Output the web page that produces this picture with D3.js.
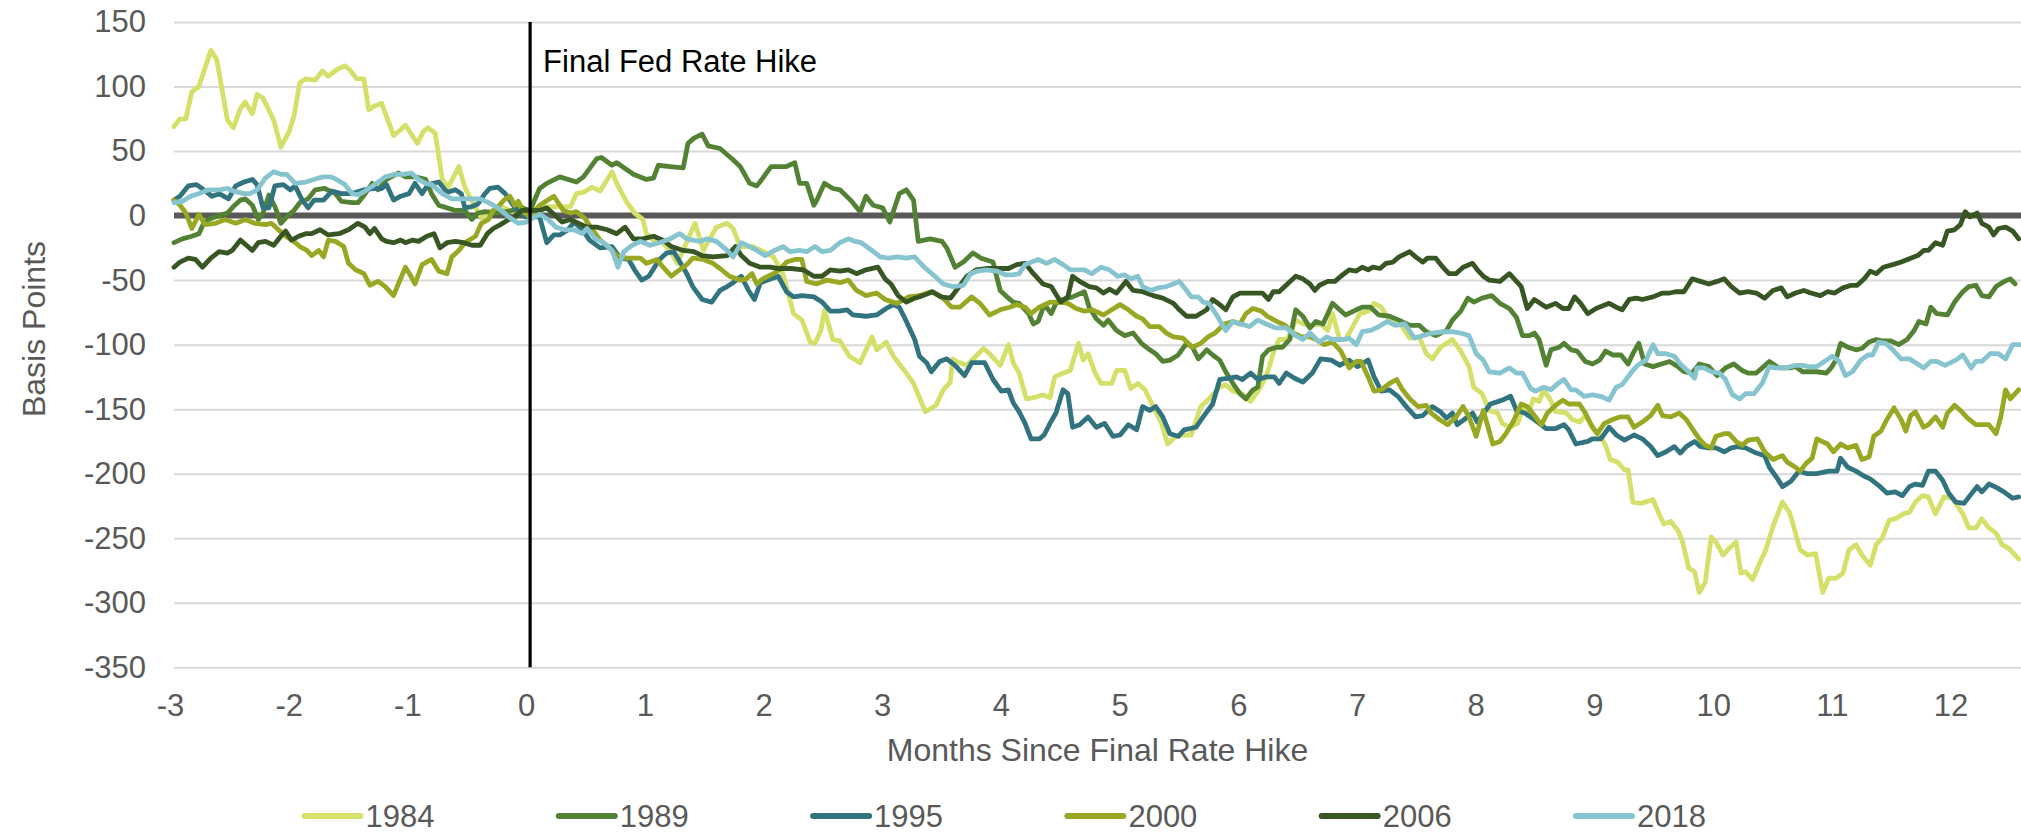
<!DOCTYPE html>
<html>
<head>
  <meta charset="utf-8">
  <title>Basis Points Since Final Fed Rate Hike</title>
  <script src="https://cdn.jsdelivr.net/npm/d3@7"></script>
  <style>
    body { margin: 0px; background: #fff; }
    svg text { font-family: "Liberation Sans", Arial, sans-serif; }
    .domain { display: none; }
    .y-axis .tick line { stroke: #d9d9d9; stroke-width: 2; }
    .tick text { fill: #595959; font-size: 31px; }
    .axis-label { fill: #595959; font-size: 32px; }
    .legend text { fill: #595959; font-size: 31px; }
  </style>
</head>
<body>
<svg width="2021" height="832"></svg>
<script>
  const years = ['1984', '1989', '1995', '2000', '2006', '2018'];
  const colors = ['#d5e06a', '#548235', '#31737f', '#99a823', '#375623', '#86c5cf'];
  const monthTicks = [-3, -2, -1, 0, 1, 2, 3, 4, 5, 6, 7, 8, 9, 10, 11, 12];
  const bpTicks = [-350, -300, -250, -200, -150, -100, -50, 0, 50, 100, 150];

  // [months since final hike, basis points]
  const s1984 = [[-3.00,69],[-2.95,75],[-2.90,75],[-2.85,96],[-2.79,100],[-2.69,128],[-2.64,121],[-2.55,74],[-2.50,68],[-2.44,83],[-2.40,88],[-2.34,79],[-2.30,94],[-2.25,91],[-2.16,74],[-2.10,53],[-2.03,65],[-1.99,77],[-1.94,103],[-1.89,106],[-1.81,105],[-1.75,112],[-1.70,108],[-1.63,113],[-1.56,116],[-1.52,113],[-1.46,106],[-1.40,106],[-1.36,82],[-1.31,85],[-1.25,87],[-1.15,62],[-1.11,65],[-1.05,70],[-0.95,56],[-0.90,65],[-0.86,68],[-0.80,64],[-0.74,28],[-0.69,22],[-0.60,38],[-0.55,22],[-0.49,11],[-0.41,-2],[-0.31,3],[-0.24,7],[-0.15,3],[-0.10,11],[-0.04,3],[0,3],
    [0.08,7],[0.34,7],[0.39,17],[0.45,18],[0.52,22],[0.59,19],[0.69,34],[0.73,25],[0.81,11],[0.88,2],[0.95,-3],[0.98,-14],[1.04,-19],[1.12,-21],[1.19,-29],[1.24,-37],[1.39,-6],[1.46,-27],[1.57,-9],[1.66,-6],[1.71,-10],[1.77,-24],[1.88,-24],[1.99,-29],[2.05,-32],[2.13,-45],[2.22,-76],[2.29,-81],[2.36,-98],[2.40,-99],[2.45,-89],[2.48,-73],[2.55,-96],[2.61,-97],[2.69,-109],[2.78,-114],[2.88,-94],[2.92,-104],[3.00,-98],[3.06,-109],[3.17,-122],[3.23,-130],[3.33,-152],[3.42,-147],[3.48,-135],[3.54,-129],[3.56,-111],[3.59,-113],[3.68,-116],[3.82,-103],[3.87,-107],[3.96,-116],[4.03,-100],[4.07,-114],[4.12,-122],
    [4.18,-142],[4.24,-141],[4.32,-139],[4.38,-141],[4.42,-125],[4.49,-122],[4.55,-120],[4.62,-99],[4.66,-112],[4.70,-107],[4.76,-122],[4.81,-130],[4.90,-130],[4.94,-120],[5.01,-120],[5.06,-134],[5.12,-130],[5.18,-135],[5.25,-148],[5.32,-161],[5.37,-177],[5.44,-171],[5.51,-170],[5.57,-170],[5.65,-148],[5.72,-142],[5.81,-133],[5.86,-131],[5.92,-136],[6.00,-138],[6.07,-144],[6.14,-135],[6.20,-125],[6.27,-104],[6.31,-96],[6.38,-96],[6.45,-81],[6.51,-84],[6.57,-85],[6.66,-84],[6.72,-89],[6.76,-76],[6.82,-96],[6.87,-96],[6.93,-86],[6.99,-76],[7.06,-74],[7.11,-68],[7.17,-71],[7.25,-82],[7.34,-85],[7.41,-95],[7.49,-94],[7.55,-107],[7.60,-111],[7.67,-102],[7.77,-96],[7.84,-105],[7.91,-117],[7.95,-133],[8.02,-138],[8.08,-151],[8.15,-153],[8.19,-161],[8.25,-164],[8.32,-161],
    [8.36,-151],[8.42,-151],[8.45,-142],[8.50,-144],[8.54,-135],[8.59,-142],[8.64,-152],[8.68,-152],[8.73,-153],[8.78,-158],[8.84,-160],[8.89,-155],[8.95,-164],[9.02,-171],[9.06,-178],[9.10,-189],[9.16,-191],[9.22,-197],[9.25,-197],[9.29,-222],[9.36,-223],[9.46,-220],[9.51,-231],[9.55,-239],[9.61,-237],[9.67,-244],[9.71,-253],[9.76,-273],[9.81,-276],[9.85,-292],[9.90,-284],[9.95,-249],[9.99,-253],[10.05,-263],[10.10,-258],[10.16,-253],[10.20,-277],[10.24,-276],[10.30,-282],[10.35,-271],[10.41,-259],[10.47,-241],[10.55,-222],[10.61,-230],[10.66,-246],[10.70,-259],[10.76,-263],[10.83,-262],[10.89,-292],[10.94,-281],[11.00,-281],[11.06,-277],[11.11,-259],[11.17,-255],[11.22,-263],[11.29,-271],[11.34,-255],[11.39,-250],[11.45,-236],[11.50,-235],[11.57,-231],[11.62,-230],[11.67,-222],[11.73,-217],[11.78,-218],[11.84,-231],[11.91,-218],[11.98,-219],[12.07,-231],[12.12,-242],[12.18,-242],[12.23,-235],[12.29,-242],[12.35,-246],[12.40,-255],[12.46,-258],[12.54,-266]];

  const s1989 = [[-3.00,-21],[-2.93,-18],[-2.85,-16],[-2.79,-14],[-2.75,-6],[-2.71,-3],[-2.62,0],[-2.55,2],[-2.50,7],[-2.44,12],[-2.40,13],[-2.34,8],[-2.29,-3],[-2.25,2],[-2.20,16],[-2.15,7],[-2.10,-6],[-2.05,-1],[-1.99,4],[-1.94,10],[-1.87,13],[-1.81,20],[-1.73,21],[-1.64,17],[-1.59,11],[-1.50,10],[-1.45,10],[-1.39,17],[-1.33,25],[-1.28,20],[-1.21,28],[-1.11,33],[-1.05,30],[-0.97,30],[-0.88,28],[-0.83,17],[-0.77,8],[-0.70,6],[-0.63,4],[-0.55,4],[-0.49,-3],[-0.44,2],[-0.38,3],[-0.27,2],[-0.15,4],[-0.07,6],[0,4],
    [0.08,21],[0.14,25],[0.25,30],[0.39,26],[0.45,30],[0.56,44],[0.60,45],[0.69,39],[0.73,41],[0.87,32],[0.98,28],[1.04,29],[1.08,39],[1.18,38],[1.29,37],[1.33,56],[1.38,60],[1.45,63],[1.50,54],[1.60,52],[1.70,44],[1.77,38],[1.85,25],[1.91,23],[1.96,29],[2.03,38],[2.16,38],[2.23,41],[2.27,25],[2.33,25],[2.39,8],[2.41,11],[2.48,25],[2.55,21],[2.61,20],[2.71,11],[2.78,3],[2.83,15],[2.89,8],[2.97,6],[3.03,-5],[3.11,17],[3.17,20],[3.23,12],[3.27,-20],[3.37,-18],[3.47,-20],[3.51,-25],[3.58,-40],[3.65,-36],[3.73,-29],[3.80,-33],[3.90,-36],[3.96,-58],[4.03,-64],[4.07,-67],[4.12,-68],
    [4.20,-76],[4.24,-84],[4.28,-82],[4.32,-72],[4.35,-71],[4.39,-76],[4.43,-68],[4.49,-65],[4.57,-63],[4.67,-59],[4.71,-71],[4.77,-80],[4.83,-85],[4.87,-81],[4.94,-89],[5.01,-93],[5.08,-91],[5.15,-99],[5.22,-104],[5.27,-107],[5.33,-113],[5.39,-112],[5.46,-108],[5.53,-99],[5.58,-102],[5.63,-111],[5.70,-104],[5.75,-108],[5.81,-112],[5.86,-121],[5.92,-130],[5.98,-138],[6.03,-142],[6.09,-135],[6.13,-133],[6.17,-109],[6.22,-104],[6.29,-102],[6.34,-102],[6.40,-96],[6.45,-73],[6.51,-78],[6.57,-87],[6.62,-82],[6.68,-84],[6.76,-68],[6.82,-73],[6.87,-77],[6.96,-73],[7.01,-71],[7.08,-71],[7.15,-77],[7.24,-78],[7.32,-81],[7.41,-85],[7.49,-85],[7.55,-90],[7.63,-93],[7.72,-89],[7.77,-81],[7.84,-74],[7.90,-64],[7.95,-67],[8.02,-64],[8.10,-62],[8.17,-68],[8.25,-72],[8.31,-79],
    [8.36,-93],[8.42,-93],[8.46,-91],[8.50,-96],[8.56,-116],[8.60,-104],[8.67,-102],[8.71,-99],[8.77,-104],[8.82,-105],[8.89,-113],[8.95,-115],[9.01,-112],[9.06,-105],[9.12,-108],[9.19,-108],[9.25,-115],[9.29,-107],[9.34,-99],[9.39,-115],[9.46,-117],[9.53,-115],[9.60,-113],[9.67,-117],[9.72,-121],[9.79,-122],[9.85,-115],[9.93,-117],[10.00,-124],[10.07,-118],[10.14,-115],[10.21,-120],[10.26,-122],[10.33,-122],[10.38,-118],[10.44,-113],[10.52,-118],[10.61,-118],[10.66,-117],[10.72,-121],[10.79,-121],[10.84,-121],[10.92,-122],[10.96,-118],[11.00,-112],[11.04,-99],[11.10,-102],[11.17,-104],[11.22,-103],[11.28,-98],[11.34,-96],[11.39,-97],[11.46,-97],[11.53,-100],[11.60,-96],[11.66,-89],[11.70,-82],[11.76,-84],[11.80,-71],[11.85,-76],[11.94,-77],[12.00,-67],[12.07,-59],[12.12,-55],[12.18,-54],[12.23,-62],[12.29,-63],[12.35,-55],[12.42,-51],[12.47,-49],[12.51,-53]];

  const s1995 = [[-3.00,12],[-2.95,15],[-2.88,23],[-2.81,24],[-2.75,20],[-2.68,15],[-2.62,17],[-2.54,13],[-2.48,23],[-2.41,26],[-2.34,28],[-2.30,24],[-2.25,6],[-2.20,6],[-2.15,23],[-2.08,24],[-2.02,20],[-1.98,23],[-1.92,12],[-1.87,6],[-1.82,12],[-1.74,12],[-1.67,19],[-1.59,17],[-1.50,17],[-1.40,20],[-1.31,21],[-1.25,21],[-1.21,24],[-1.15,12],[-1.09,15],[-1.02,17],[-0.97,25],[-0.91,17],[-0.86,24],[-0.77,26],[-0.70,18],[-0.63,20],[-0.58,17],[-0.55,6],[-0.49,7],[-0.44,9],[-0.38,17],[-0.34,21],[-0.27,22],[-0.21,17],[-0.15,9],[-0.10,3],[-0.04,-1],[0,-1],
    [0.08,-1],[0.14,-21],[0.20,-15],[0.25,-15],[0.32,-11],[0.37,-5],[0.45,-12],[0.50,-19],[0.59,-25],[0.69,-24],[0.76,-33],[0.83,-34],[0.88,-42],[0.94,-50],[1.00,-47],[1.09,-34],[1.15,-29],[1.21,-28],[1.25,-34],[1.32,-45],[1.37,-55],[1.45,-65],[1.53,-67],[1.60,-58],[1.66,-55],[1.71,-52],[1.78,-47],[1.84,-58],[1.89,-65],[1.94,-52],[2.03,-49],[2.09,-47],[2.16,-59],[2.22,-63],[2.29,-62],[2.39,-63],[2.46,-67],[2.53,-74],[2.60,-74],[2.67,-73],[2.72,-77],[2.83,-78],[2.92,-77],[3.00,-72],[3.06,-69],[3.11,-71],[3.17,-82],[3.24,-96],[3.28,-109],[3.34,-114],[3.38,-121],[3.45,-113],[3.51,-111],[3.58,-116],[3.66,-124],[3.72,-114],[3.83,-114],[3.90,-127],[3.97,-136],[4.03,-135],[4.07,-145],[4.12,-152],
    [4.17,-161],[4.22,-173],[4.29,-173],[4.33,-170],[4.38,-161],[4.43,-153],[4.49,-135],[4.53,-138],[4.57,-164],[4.63,-162],[4.70,-156],[4.77,-164],[4.84,-161],[4.91,-171],[4.97,-170],[5.04,-162],[5.11,-166],[5.16,-148],[5.22,-151],[5.27,-148],[5.33,-156],[5.39,-169],[5.46,-171],[5.51,-166],[5.61,-164],[5.67,-156],[5.75,-146],[5.81,-127],[5.89,-126],[5.95,-125],[6.00,-127],[6.07,-122],[6.13,-127],[6.20,-125],[6.27,-125],[6.31,-130],[6.37,-122],[6.44,-126],[6.51,-129],[6.59,-122],[6.66,-111],[6.75,-112],[6.82,-116],[6.90,-112],[6.97,-117],[7.06,-112],[7.11,-125],[7.17,-136],[7.24,-135],[7.31,-140],[7.39,-149],[7.46,-156],[7.52,-155],[7.60,-148],[7.67,-152],[7.72,-157],[7.77,-153],[7.81,-162],[7.87,-158],[7.94,-153],[7.98,-160],[8.04,-152],[8.09,-146],[8.19,-143],[8.26,-140],
    [8.31,-151],[8.38,-153],[8.46,-158],[8.56,-165],[8.64,-165],[8.71,-162],[8.75,-166],[8.81,-177],[8.91,-175],[8.95,-173],[9.02,-173],[9.09,-164],[9.15,-170],[9.22,-174],[9.30,-170],[9.37,-173],[9.44,-179],[9.50,-186],[9.57,-183],[9.64,-179],[9.69,-184],[9.74,-179],[9.81,-175],[9.86,-179],[9.93,-180],[9.99,-180],[10.06,-183],[10.12,-180],[10.17,-179],[10.24,-180],[10.33,-184],[10.40,-186],[10.44,-195],[10.51,-204],[10.55,-210],[10.62,-206],[10.69,-198],[10.76,-200],[10.84,-200],[10.94,-198],[11.01,-198],[11.04,-188],[11.10,-195],[11.17,-198],[11.24,-202],[11.29,-204],[11.36,-209],[11.43,-215],[11.50,-214],[11.56,-217],[11.62,-210],[11.67,-208],[11.73,-209],[11.78,-198],[11.84,-198],[11.90,-205],[11.95,-215],[12.01,-222],[12.08,-223],[12.13,-217],[12.19,-210],[12.23,-214],[12.29,-208],[12.36,-211],[12.43,-215],[12.49,-219],[12.54,-218]];

  const s2000 = [[-3.00,12],[-2.95,8],[-2.90,2],[-2.85,-10],[-2.79,1],[-2.74,-7],[-2.65,-6],[-2.57,-3],[-2.48,-6],[-2.40,-3],[-2.32,-6],[-2.23,-7],[-2.18,-6],[-2.12,-11],[-2.06,-16],[-1.99,-20],[-1.94,-24],[-1.88,-27],[-1.84,-31],[-1.78,-27],[-1.74,-32],[-1.70,-19],[-1.64,-20],[-1.57,-24],[-1.53,-37],[-1.47,-42],[-1.40,-45],[-1.35,-54],[-1.28,-51],[-1.22,-55],[-1.15,-62],[-1.11,-53],[-1.05,-40],[-1.01,-46],[-0.97,-53],[-0.91,-38],[-0.83,-34],[-0.77,-43],[-0.70,-45],[-0.66,-32],[-0.60,-27],[-0.55,-21],[-0.46,-16],[-0.41,-6],[-0.35,-3],[-0.31,4],[-0.27,7],[-0.22,12],[-0.17,15],[-0.13,8],[-0.10,11],[-0.06,3],[0,-1],
    [0.08,8],[0.20,15],[0.28,4],[0.34,2],[0.39,3],[0.46,-2],[0.52,-10],[0.59,-19],[0.66,-24],[0.73,-31],[0.81,-33],[0.93,-33],[0.98,-37],[1.07,-34],[1.12,-40],[1.19,-47],[1.23,-44],[1.32,-38],[1.37,-33],[1.46,-34],[1.54,-37],[1.60,-41],[1.68,-47],[1.77,-50],[1.82,-49],[1.87,-45],[1.91,-53],[1.96,-49],[2.05,-45],[2.10,-42],[2.16,-36],[2.23,-34],[2.29,-34],[2.33,-51],[2.41,-53],[2.50,-50],[2.61,-52],[2.68,-50],[2.75,-58],[2.83,-62],[2.92,-60],[2.99,-65],[3.09,-68],[3.19,-63],[3.28,-62],[3.38,-59],[3.47,-63],[3.55,-71],[3.62,-71],[3.72,-63],[3.79,-68],[3.87,-77],[3.96,-73],[4.04,-71],
    [4.10,-69],[4.17,-71],[4.22,-76],[4.29,-71],[4.38,-67],[4.46,-67],[4.53,-68],[4.60,-72],[4.67,-74],[4.74,-73],[4.83,-77],[4.90,-73],[4.97,-69],[5.04,-73],[5.11,-78],[5.16,-80],[5.22,-86],[5.30,-86],[5.36,-91],[5.42,-94],[5.50,-95],[5.58,-102],[5.65,-99],[5.71,-94],[5.77,-91],[5.85,-84],[5.92,-82],[5.98,-84],[6.03,-76],[6.09,-72],[6.16,-74],[6.21,-78],[6.29,-82],[6.36,-85],[6.43,-91],[6.50,-94],[6.57,-94],[6.62,-96],[6.69,-100],[6.76,-98],[6.83,-105],[6.90,-118],[6.96,-113],[7.00,-113],[7.06,-125],[7.11,-136],[7.17,-135],[7.24,-130],[7.30,-127],[7.35,-135],[7.41,-142],[7.48,-148],[7.55,-147],[7.59,-153],[7.66,-158],[7.73,-162],[7.80,-156],[7.86,-148],[7.91,-156],[7.97,-171],[8.03,-151],[8.11,-177],[8.17,-175],[8.22,-169],[8.28,-160],
    [8.35,-146],[8.40,-148],[8.47,-156],[8.52,-162],[8.57,-153],[8.64,-147],[8.70,-143],[8.75,-146],[8.84,-146],[8.89,-153],[8.95,-164],[8.99,-169],[9.05,-161],[9.12,-158],[9.18,-156],[9.25,-156],[9.30,-164],[9.37,-160],[9.44,-155],[9.50,-147],[9.54,-155],[9.61,-156],[9.68,-153],[9.74,-158],[9.79,-165],[9.85,-173],[9.90,-178],[9.95,-180],[9.99,-171],[10.06,-169],[10.10,-169],[10.16,-175],[10.21,-178],[10.26,-174],[10.34,-173],[10.40,-183],[10.47,-189],[10.55,-186],[10.59,-191],[10.66,-195],[10.70,-198],[10.75,-192],[10.80,-188],[10.84,-173],[10.93,-177],[10.98,-183],[11.04,-177],[11.10,-180],[11.17,-178],[11.22,-189],[11.28,-187],[11.32,-171],[11.38,-167],[11.43,-158],[11.49,-149],[11.55,-158],[11.59,-167],[11.63,-155],[11.67,-152],[11.74,-164],[11.78,-162],[11.84,-156],[11.90,-164],[11.94,-153],[12.00,-147],[12.05,-151],[12.11,-157],[12.18,-162],[12.29,-162],[12.35,-169],[12.39,-156],[12.43,-135],[12.47,-142],[12.54,-135]];

  const s2006 = [[-3.00,-40],[-2.95,-36],[-2.88,-33],[-2.82,-34],[-2.76,-40],[-2.69,-33],[-2.62,-28],[-2.55,-29],[-2.51,-27],[-2.44,-19],[-2.39,-23],[-2.34,-27],[-2.29,-21],[-2.23,-20],[-2.16,-23],[-2.10,-16],[-2.06,-12],[-2.01,-19],[-1.95,-16],[-1.89,-14],[-1.84,-14],[-1.77,-11],[-1.70,-15],[-1.61,-14],[-1.53,-11],[-1.45,-6],[-1.39,-9],[-1.35,-14],[-1.31,-10],[-1.25,-18],[-1.21,-20],[-1.15,-21],[-1.09,-19],[-1.05,-21],[-0.99,-19],[-0.94,-20],[-0.87,-16],[-0.81,-14],[-0.76,-25],[-0.70,-21],[-0.63,-20],[-0.56,-21],[-0.49,-23],[-0.42,-23],[-0.36,-14],[-0.31,-10],[-0.25,-7],[-0.18,-3],[-0.13,-1],[-0.07,4],[0,4],
    [0.08,4],[0.14,6],[0.20,1],[0.27,-5],[0.34,-3],[0.41,-6],[0.48,-9],[0.56,-9],[0.65,-11],[0.73,-14],[0.80,-9],[0.87,-18],[0.95,-18],[1.04,-16],[1.12,-19],[1.19,-24],[1.29,-27],[1.38,-28],[1.45,-31],[1.54,-32],[1.66,-31],[1.73,-24],[1.78,-31],[1.85,-37],[1.94,-40],[2.02,-40],[2.10,-41],[2.20,-41],[2.30,-42],[2.39,-47],[2.46,-47],[2.53,-42],[2.61,-43],[2.68,-42],[2.75,-45],[2.83,-42],[2.93,-40],[2.99,-49],[3.04,-53],[3.10,-62],[3.17,-67],[3.24,-64],[3.31,-62],[3.39,-59],[3.46,-63],[3.54,-64],[3.59,-58],[3.68,-47],[3.76,-42],[3.84,-41],[3.93,-41],[4.03,-41],[4.10,-38],
    [4.17,-37],[4.24,-45],[4.32,-53],[4.39,-55],[4.47,-67],[4.53,-63],[4.57,-47],[4.63,-51],[4.71,-55],[4.77,-56],[4.83,-60],[4.88,-57],[4.94,-60],[5.02,-51],[5.08,-58],[5.16,-59],[5.25,-62],[5.33,-64],[5.42,-68],[5.47,-73],[5.53,-78],[5.61,-78],[5.70,-73],[5.75,-65],[5.81,-69],[5.86,-73],[5.92,-63],[5.98,-60],[6.06,-60],[6.17,-60],[6.22,-65],[6.26,-59],[6.31,-59],[6.38,-53],[6.45,-47],[6.51,-49],[6.57,-53],[6.61,-58],[6.65,-54],[6.72,-51],[6.78,-51],[6.83,-47],[6.90,-42],[6.96,-43],[7.01,-40],[7.06,-42],[7.10,-40],[7.16,-41],[7.21,-37],[7.27,-36],[7.32,-32],[7.41,-28],[7.46,-32],[7.52,-36],[7.56,-33],[7.63,-33],[7.69,-40],[7.74,-45],[7.80,-45],[7.86,-40],[7.94,-37],[7.98,-42],[8.03,-47],[8.08,-50],[8.17,-51],[8.25,-45],
    [8.35,-55],[8.40,-72],[8.46,-65],[8.56,-71],[8.64,-68],[8.70,-72],[8.75,-72],[8.80,-63],[8.85,-68],[8.91,-76],[8.98,-72],[9.09,-68],[9.15,-71],[9.20,-73],[9.26,-65],[9.32,-64],[9.37,-65],[9.46,-63],[9.54,-60],[9.60,-60],[9.65,-59],[9.72,-59],[9.79,-49],[9.86,-51],[9.93,-53],[10.00,-51],[10.06,-49],[10.12,-55],[10.19,-60],[10.26,-59],[10.33,-60],[10.40,-64],[10.47,-58],[10.54,-56],[10.59,-63],[10.66,-60],[10.73,-58],[10.79,-60],[10.87,-62],[10.93,-59],[10.99,-60],[11.06,-56],[11.13,-54],[11.18,-54],[11.24,-49],[11.29,-43],[11.34,-45],[11.40,-40],[11.48,-38],[11.55,-36],[11.63,-33],[11.69,-31],[11.74,-27],[11.78,-27],[11.84,-21],[11.90,-23],[11.94,-12],[12.00,-11],[12.05,-7],[12.09,3],[12.13,-1],[12.19,2],[12.23,-6],[12.29,-9],[12.33,-15],[12.37,-10],[12.43,-9],[12.49,-12],[12.54,-18]];

  const s2018 = [[-3.00,10],[-2.93,11],[-2.86,15],[-2.79,17],[-2.71,20],[-2.62,20],[-2.55,21],[-2.50,19],[-2.41,17],[-2.36,17],[-2.30,20],[-2.23,29],[-2.16,34],[-2.10,32],[-2.05,32],[-1.98,25],[-1.89,26],[-1.82,28],[-1.75,30],[-1.68,30],[-1.63,28],[-1.56,24],[-1.50,17],[-1.45,16],[-1.39,19],[-1.31,24],[-1.22,30],[-1.14,32],[-1.07,32],[-1.00,33],[-0.94,28],[-0.88,25],[-0.83,24],[-0.74,17],[-0.66,13],[-0.57,13],[-0.49,13],[-0.42,13],[-0.35,10],[-0.27,6],[-0.18,-1],[-0.10,-6],[-0.03,-5],[0,-3],
    [0.08,1],[0.15,-3],[0.22,-9],[0.29,-11],[0.37,-11],[0.44,-14],[0.48,-10],[0.55,-18],[0.62,-21],[0.69,-27],[0.74,-40],[0.79,-28],[0.86,-23],[0.93,-20],[1.01,-23],[1.09,-21],[1.18,-18],[1.26,-14],[1.32,-18],[1.37,-19],[1.43,-20],[1.49,-18],[1.57,-20],[1.66,-27],[1.71,-32],[1.78,-21],[1.85,-24],[1.91,-27],[1.98,-31],[2.06,-27],[2.13,-24],[2.19,-28],[2.27,-27],[2.33,-28],[2.40,-24],[2.46,-28],[2.53,-27],[2.61,-21],[2.68,-18],[2.74,-20],[2.79,-21],[2.88,-27],[2.95,-32],[3.02,-33],[3.09,-32],[3.17,-33],[3.24,-32],[3.28,-36],[3.32,-40],[3.41,-47],[3.48,-53],[3.56,-55],[3.65,-54],[3.71,-45],[3.77,-43],[3.84,-42],[3.93,-43],[4.01,-46],[4.07,-46],[4.12,-45],
    [4.17,-38],[4.28,-34],[4.35,-37],[4.42,-34],[4.49,-38],[4.55,-42],[4.67,-42],[4.73,-45],[4.81,-40],[4.88,-42],[4.95,-47],[5.01,-46],[5.06,-49],[5.12,-47],[5.16,-55],[5.23,-58],[5.29,-56],[5.36,-55],[5.42,-53],[5.47,-51],[5.53,-58],[5.57,-63],[5.63,-63],[5.67,-67],[5.72,-68],[5.79,-78],[5.86,-89],[5.92,-82],[5.99,-84],[6.06,-86],[6.13,-81],[6.20,-84],[6.28,-87],[6.37,-87],[6.45,-93],[6.51,-96],[6.57,-91],[6.65,-98],[6.71,-94],[6.76,-96],[6.85,-96],[6.90,-95],[6.96,-100],[7.01,-90],[7.08,-89],[7.15,-86],[7.22,-82],[7.29,-85],[7.37,-84],[7.45,-95],[7.52,-93],[7.60,-91],[7.69,-90],[7.77,-90],[7.84,-91],[7.91,-93],[7.97,-107],[8.03,-112],[8.08,-121],[8.17,-122],[8.25,-118],
    [8.31,-122],[8.36,-122],[8.43,-134],[8.47,-136],[8.54,-133],[8.60,-135],[8.66,-130],[8.71,-127],[8.77,-135],[8.81,-135],[8.88,-140],[8.95,-139],[9.02,-140],[9.09,-143],[9.15,-133],[9.20,-131],[9.29,-120],[9.33,-116],[9.40,-112],[9.46,-100],[9.50,-107],[9.57,-107],[9.64,-109],[9.69,-115],[9.76,-121],[9.81,-126],[9.83,-118],[9.89,-118],[9.95,-121],[10.02,-122],[10.07,-127],[10.13,-139],[10.19,-142],[10.24,-138],[10.31,-138],[10.38,-130],[10.44,-117],[10.49,-118],[10.58,-118],[10.66,-116],[10.72,-116],[10.77,-117],[10.84,-117],[10.92,-112],[10.97,-109],[11.03,-113],[11.08,-124],[11.14,-121],[11.21,-112],[11.27,-108],[11.31,-108],[11.36,-98],[11.42,-99],[11.48,-104],[11.55,-111],[11.62,-111],[11.69,-115],[11.74,-118],[11.80,-113],[11.85,-113],[11.92,-116],[12.01,-112],[12.07,-108],[12.14,-118],[12.18,-113],[12.23,-113],[12.30,-107],[12.37,-107],[12.43,-111],[12.49,-100],[12.55,-100]];

  const seriesData = [s1984, s1989, s1995, s2000, s2006, s2018];

  const svg = d3.select('svg');
  const plot = { left: 174, right: 2021, top: 22, bottom: 667.3 };

  const xScale = d3.scaleLinear().domain([-3, 12.56]).range([plot.left, plot.right]);
  const yScale = d3.scaleLinear().domain([-350, 150]).range([plot.bottom, plot.top]);

  // Excel style labels use a plain hyphen for negatives
  const plainNum = d => String(d);

  svg.append('rect').attr('width', 2021).attr('height', 832).attr('fill', '#fff');

  // y axis + gridlines
  svg.append('g')
    .attr('class', 'y-axis')
    .attr('transform', `translate(${plot.left},0)`)
    .call(d3.axisLeft(yScale)
      .tickValues(bpTicks)
      .tickFormat(plainNum)
      .tickSize(-(plot.right - plot.left))
      .tickPadding(28));

  // x axis labels
  const xAxisG = svg.append('g')
    .attr('class', 'x-axis')
    .attr('transform', `translate(0,${plot.bottom})`)
    .call(d3.axisBottom(xScale)
      .tickValues(monthTicks)
      .tickFormat(plainNum)
      .tickSize(0)
      .tickPadding(27));
  xAxisG.selectAll('.tick text').attr('x', -4);

  // zero line
  svg.append('line')
    .attr('x1', plot.left).attr('x2', plot.right)
    .attr('y1', yScale(0)).attr('y2', yScale(0))
    .attr('stroke', '#595959')
    .attr('stroke-width', 6);

  const lineGen = d3.line()
    .x(d => xScale(d[0]))
    .y(d => yScale(d[1]));

  svg.append('g').selectAll('path')
    .data(seriesData)
    .enter().append('path')
    .attr('d', lineGen)
    .attr('fill', 'none')
    .attr('stroke', (d, i) => colors[i])
    .attr('stroke-width', 4.8)
    .attr('stroke-linejoin', 'round')
    .attr('stroke-linecap', 'round');

  // final hike marker
  svg.append('line')
    .attr('x1', xScale(0)).attr('x2', xScale(0))
    .attr('y1', plot.top).attr('y2', plot.bottom)
    .attr('stroke', '#000')
    .attr('stroke-width', 3.2);

  svg.append('text')
    .attr('x', xScale(0) + 13)
    .attr('y', 72)
    .attr('fill', '#000')
    .style('font-size', '31px')
    .text('Final Fed Rate Hike');

  // axis titles
  svg.append('text')
    .attr('class', 'axis-label')
    .attr('x', (plot.left + plot.right) / 2)
    .attr('y', 761)
    .attr('text-anchor', 'middle')
    .text('Months Since Final Rate Hike');

  svg.append('text')
    .attr('class', 'axis-label')
    .attr('transform', 'translate(44.5,329) rotate(-90)')
    .attr('text-anchor', 'middle')
    .text('Basis Points');

  // legend
  const legend = svg.append('g').attr('class', 'legend');
  const item = legend.selectAll('g')
    .data(years)
    .enter().append('g')
    .attr('transform', (d, i) => `translate(${304.5 + i * 254.3},816)`);
  item.append('line')
    .attr('x1', 0).attr('x2', 56)
    .attr('stroke', (d, i) => colors[i])
    .attr('stroke-width', 6)
    .attr('stroke-linecap', 'round');
  item.append('text')
    .attr('x', 61)
    .attr('y', 11)
    .text(d => d);
</script>
</body>
</html>
